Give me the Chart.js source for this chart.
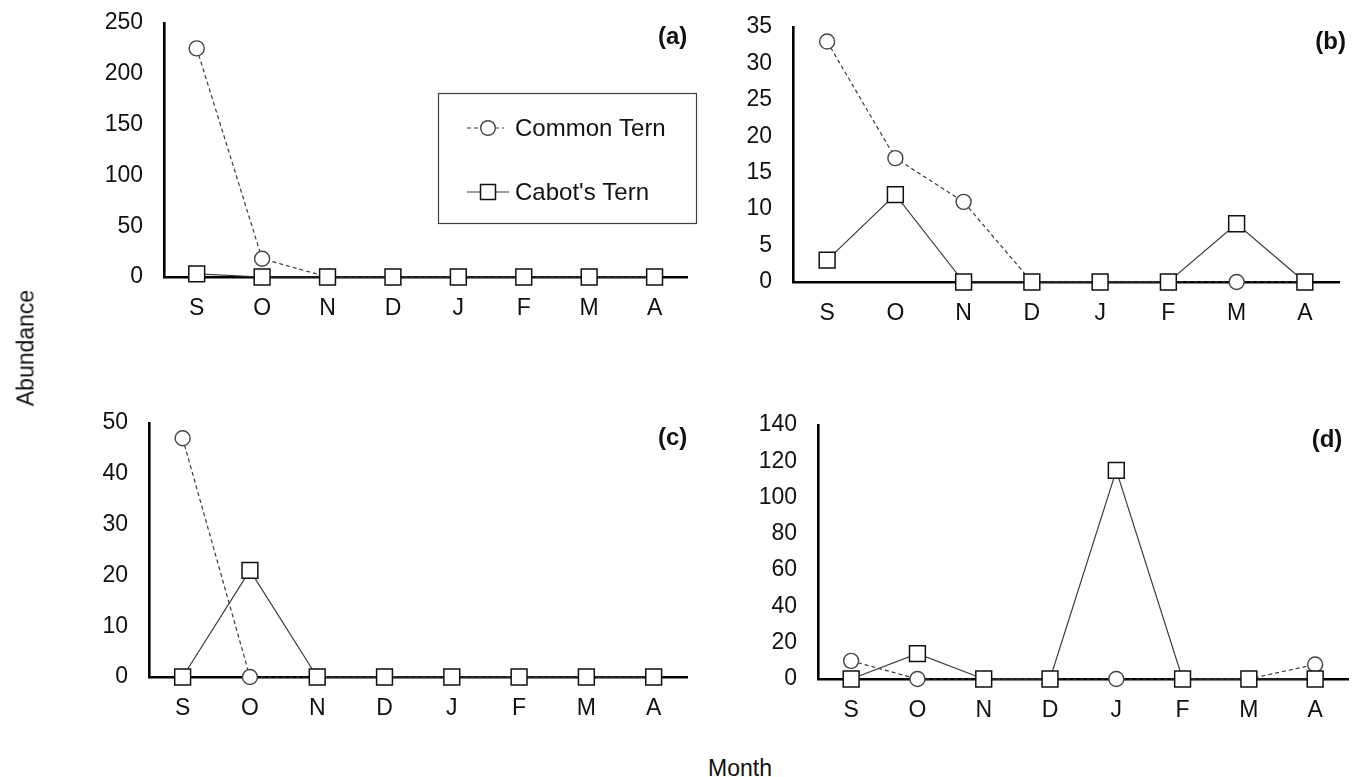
<!DOCTYPE html>
<html>
<head>
<meta charset="utf-8">
<script src="https://cdn.jsdelivr.net/npm/chart.js@4.4.0/dist/chart.umd.min.js"></script>
<style>
  html, body { margin: 0; padding: 0; background: #fff; }
  body { width: 1361px; height: 777px; position: relative; overflow: hidden; font-family: "Liberation Sans", Arial, sans-serif; }
  .panel { position: absolute; }
  .axtitle { position: absolute; font-size: 23px; color: #111; white-space: nowrap; }
</style>
</head>
<body>
<div class="panel" id="pa" style="left:0;top:0;width:700px;height:320px;"><canvas id="ca"></canvas></div>
<div class="panel" id="pb" style="left:700px;top:0;width:661px;height:320px;"><canvas id="cb"></canvas></div>
<div class="panel" id="pc" style="left:0;top:390px;width:700px;height:330px;"><canvas id="cc"></canvas></div>
<div class="panel" id="pd" style="left:700px;top:390px;width:661px;height:330px;"><canvas id="cd"></canvas></div>
<div class="axtitle" id="ylab" style="left:26px;top:348px;transform:translate(-50%,-50%) rotate(-90deg);">Abundance</div>
<div class="axtitle" id="xlab" style="left:740px;top:768px;transform:translate(-50%,-50%);">Month</div>
<script>
// ---- data ----
const months = ["S", "O", "N", "D", "J", "F", "M", "A"];
const seriesNames = ["Common Tern", "Cabot's Tern"];
const commonA = [225, 18, 0, 0, 0, 0, 0, 0];
const cabotA  = [3, 0, 0, 0, 0, 0, 0, 0];
const commonB = [33, 17, 11, 0, 0, 0, 0, 0];
const cabotB  = [3, 12, 0, 0, 0, 0, 8, 0];
const commonC = [47, 0, 0, 0, 0, 0, 0, 0];
const cabotC  = [0, 21, 0, 0, 0, 0, 0, 0];
const commonD = [10, 0, 0, 0, 0, 0, 0, 8];
const cabotD  = [0, 14, 0, 0, 115, 0, 0, 0];
const panelLetters = ["(a)", "(b)", "(c)", "(d)"];
const yMaxes = [250, 35, 50, 140];
const ySteps = [50, 5, 10, 20];

const FONT = "'Liberation Sans', Arial, sans-serif";
const TXT = '#111';

function makeDatasets(common, cabot) {
  return [
    {
      label: seriesNames[0], data: common, order: 2,
      borderColor: '#3a3a3a', borderWidth: 1.2, borderDash: [4, 3],
      pointStyle: 'circle', pointRadius: 7.5, pointBorderWidth: 1.4,
      pointBorderColor: '#444', pointBackgroundColor: '#fff',
      tension: 0, clip: false
    },
    {
      label: seriesNames[1], data: cabot, order: 1,
      borderColor: '#3a3a3a', borderWidth: 1.2,
      pointStyle: 'rect', pointRadius: 11.2, pointBorderWidth: 1.5,
      pointBorderColor: '#111', pointBackgroundColor: '#fff',
      tension: 0, clip: false
    }
  ];
}

const letterPlugin = {
  id: 'letter',
  afterDraw(chart, args, opts) {
    const ctx = chart.ctx, a = chart.chartArea;
    ctx.save();
    ctx.font = 'bold 24px ' + FONT;
    ctx.fillStyle = TXT;
    ctx.textAlign = 'right';
    ctx.textBaseline = 'middle';
    ctx.fillText(opts.text, a.right + opts.dx, a.top + opts.dy);
    ctx.restore();
  }
};

const legendPlugin = {
  id: 'boxLegend',
  afterDraw(chart, args, opts) {
    if (!opts.show) return;
    const ctx = chart.ctx;
    const ds = chart.data.datasets;
    ctx.save();
    ctx.strokeStyle = '#404040';
    ctx.lineWidth = 1.2;
    ctx.strokeRect(438.5, 93.5, 258, 130);
    const rows = [128, 192];
    ds.forEach((d, i) => {
      const y = rows[i];
      ctx.strokeStyle = d.borderColor;
      ctx.lineWidth = d.borderWidth;
      ctx.setLineDash(d.borderDash || []);
      ctx.beginPath();
      ctx.moveTo(467, y); ctx.lineTo(i === 0 ? 504 : 509, y);
      ctx.stroke();
      ctx.setLineDash([]);
      ctx.fillStyle = '#fff';
      ctx.strokeStyle = d.pointBorderColor;
      ctx.lineWidth = d.pointBorderWidth;
      ctx.beginPath();
      if (d.pointStyle === 'circle') {
        ctx.arc(488, y, 7.3, 0, Math.PI * 2);
      } else {
        ctx.rect(480.5, y - 7.5, 15, 15);
      }
      ctx.fill(); ctx.stroke();
      ctx.fillStyle = TXT;
      ctx.font = '24px ' + FONT;
      ctx.textAlign = 'left';
      ctx.textBaseline = 'middle';
      ctx.fillText(d.label, 515, y + 1);
    });
    ctx.restore();
  }
};

function makeChart(id, idx, common, cabot, geom) {
  return new Chart(document.getElementById(id), {
    type: 'line',
    data: { labels: months, datasets: makeDatasets(common, cabot) },
    plugins: [letterPlugin, legendPlugin],
    options: {
      responsive: true, maintainAspectRatio: false, animation: false,
      events: [],
      layout: { padding: { top: geom.top, right: geom.right, left: 0, bottom: 0 } },
      plugins: {
        legend: { display: false }, tooltip: { enabled: false },
        letter: { text: panelLetters[idx], dx: geom.ldx, dy: geom.ldy },
        boxLegend: { show: idx === 0 }
      },
      scales: {
        x: {
          offset: true,
          grid: { display: false, drawTicks: false },
          border: { display: true, color: '#000', width: 2.6 },
          ticks: { color: TXT, font: { family: FONT, size: 23 }, padding: 18, maxRotation: 0, autoSkip: false },
          afterFit(s) { s.height = geom.xh; s.paddingLeft = 0; s.paddingRight = 0; }
        },
        y: {
          min: 0, max: yMaxes[idx],
          grid: { display: false, drawTicks: false },
          border: { display: true, color: '#000', width: 2.6 },
          ticks: { color: TXT, font: { family: FONT, size: 23 }, padding: 21, stepSize: ySteps[idx] },
          afterFit(s) { s.width = geom.yw; s.paddingTop = 0; s.paddingBottom = 0; }
        }
      }
    }
  });
}

makeChart('ca', 0, commonA, cabotA, { top: 23, right: 6, xh: 43, yw: 164, ldx: 0, ldy: 14 });
makeChart('cb', 1, commonB, cabotB, { top: 27, right: 22, xh: 38, yw: 93, ldx: 7, ldy: 15 });
makeChart('cc', 2, commonC, cabotC, { top: 33, right: 5, xh: 43, yw: 149, ldx: 0, ldy: 15 });
makeChart('cd', 3, commonD, cabotD, { top: 35, right: 3, xh: 41, yw: 118, ldx: -6, ldy: 15 });
</script>
</body>
</html>
